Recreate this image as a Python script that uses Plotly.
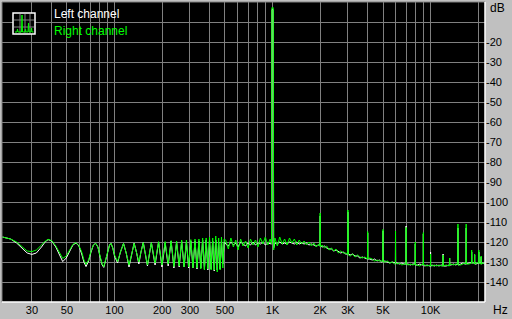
import plotly.graph_objects as go
import math

# ---------------- data ----------------
# Low-frequency region (comb-like ripple), Hz / dB
low_hz = [19.5, 22, 24, 26, 28, 30, 32, 34.5, 36.5, 38,
          40, 42.5, 45, 47, 49.5, 52, 54.5, 57, 59.5, 62,
          64, 66, 68.5, 71, 73.5, 76, 78.5, 81, 83.5, 85.5,
          88, 90.5, 93, 95, 97.5, 100, 104.5, 109, 114, 118.5,
          123.5, 128.5, 133, 138, 142.5, 147, 152, 161.5, 171, 180.5,
          190, 199.5, 209, 218.5, 228, 237.5, 247, 256.5, 266, 275.5,
          285, 294.5, 304, 313.5, 323, 332.5, 342, 351.5, 361, 370.5,
          380, 389.5, 399, 408.5, 418, 427.5, 437, 446.5, 456, 465.5,
          475, 484.5, 494]
low_left = [-117.5, -118.5, -120.5, -123.0, -125.5, -126.2, -125.5, -122.5, -119.8, -118.8,
            -119.5, -122.5, -127.0, -129.8, -128.0, -124.5, -121.5, -120.5, -122.0, -126.0,
            -130.0, -132.3, -129.5, -125.0, -121.5, -120.7, -122.5, -127.5, -131.5, -132.7,
            -129.0, -124.5, -121.5, -120.7, -123.0, -127.0, -130.5, -125.0, -120.7, -125.5,
            -132.5, -126.0, -120.5, -125.5, -131.0, -125.0, -120.2, -132.0, -120.3, -131.5,
            -120.0, -132.5, -120.5, -132.0, -119.5, -133.0, -120.0, -132.5, -119.8, -132.5,
            -120.0, -133.0, -119.5, -133.0, -119.5, -133.5, -119.5, -133.0, -119.0, -133.5,
            -119.0, -134.0, -119.0, -133.5, -119.5, -134.5, -119.0, -134.0, -120.0, -133.5,
            -119.5, -131.0, -120.0]
low_right = [-117.5, -118.5, -120.0, -122.5, -124.5, -124.8, -124.0, -121.5, -119.5, -118.7,
             -119.3, -122.0, -126.0, -128.2, -127.0, -124.0, -121.2, -120.3, -121.8, -125.0,
             -129.0, -131.2, -129.0, -124.5, -121.5, -120.7, -122.5, -127.0, -131.0, -132.3,
             -129.0, -124.5, -121.5, -120.7, -123.0, -126.5, -129.8, -125.0, -120.7, -125.5,
             -131.5, -126.0, -120.7, -125.5, -130.0, -125.0, -120.3, -131.5, -120.3, -130.5,
             -119.8, -131.5, -119.8, -131.0, -119.3, -132.3, -119.5, -132.0, -119.0, -132.5,
             -119.0, -132.5, -118.8, -133.0, -118.5, -133.0, -118.5, -133.5, -118.0, -134.0,
             -118.0, -133.5, -117.5, -134.0, -118.0, -134.0, -117.0, -135.0, -118.0, -134.0,
             -117.5, -133.0, -118.5]

# Mid region with the 1 kHz test tone
mid_hz = [505, 525, 545, 565, 585, 605, 628, 650, 675, 700,
          725, 752, 780, 808, 838, 868, 900, 932, 965, 985,
          990, 1000, 1010, 1016, 1035, 1072, 1110, 1150, 1192, 1235,
          1280, 1326, 1374, 1424, 1475, 1528, 1583, 1640, 1700, 1762,
          1825, 1890, 1958]
mid_left = [-121.0, -122.0, -120.0, -121.5, -120.5, -122.5, -120.0, -121.0, -122.0, -120.5,
            -121.5, -120.0, -121.5, -120.5, -121.0, -120.0, -121.5, -120.5, -121.0, -121.0,
            -4.0, -3.5, -4.0, -123.0, -120.5, -121.0, -120.0, -121.0, -120.5, -121.0,
            -120.0, -120.5, -121.0, -120.0, -121.0, -120.5, -121.0, -120.5, -121.5, -121.0,
            -121.5, -122.0, -121.5]
mid_right = [-119.0, -123.5, -118.0, -122.5, -119.0, -124.0, -118.5, -122.0, -119.5, -123.0,
             -118.5, -121.5, -119.0, -122.5, -118.0, -121.0, -117.5, -121.5, -118.5, -121.0,
             -3.0, -2.5, -3.0, -124.0, -118.0, -122.0, -117.5, -121.0, -118.5, -121.5,
             -118.0, -120.5, -118.5, -121.5, -119.0, -121.0, -119.5, -121.5, -120.0, -122.0,
             -120.5, -122.5, -121.0]

# High region: noise floor and harmonics
high_hz = [1990, 2000, 2010, 2060, 2130, 2200, 2280, 2360, 2440, 2520,
           2610, 2700, 2800, 2900, 2985, 3000, 3015, 3100, 3210, 3330,
           3450, 3570, 3700, 3830, 3950, 3990, 4000, 4010, 4120, 4270,
           4420, 4580, 4750, 4900, 4985, 5000, 5015, 5130, 5330, 5520,
           5720, 5900, 5990, 6000, 6010, 6130, 6350, 6580, 6800, 6990,
           7000, 7010, 7200, 7450, 7720, 7990, 8000, 8010, 8250, 8550,
           8850, 8990, 9000, 9010, 9200, 9500, 9850, 9990, 10000, 10010,
           10200, 10550, 10900, 11300, 11700, 11950, 12000, 12050, 12550, 13000,
           13150, 13200, 13250, 13450, 13950, 14450, 14850, 14900, 14950, 15500,
           16000, 16500, 16750, 16800, 16850, 17500, 18150, 18200, 18250, 18750,
           18950, 19000, 19050, 19400, 20150, 20200, 20250, 20800, 20850, 20900,
           20950, 21500, 22000]
high_left = [-122.0, -107.0, -122.0, -122.5, -122.0, -123.0, -123.5, -123.5, -124.5, -124.0,
             -125.0, -125.5, -125.0, -126.0, -126.0, -105.0, -126.0, -126.5, -126.0, -127.0,
             -127.0, -128.0, -127.5, -128.0, -128.5, -128.5, -115.5, -128.5, -128.5, -129.0,
             -128.5, -129.5, -129.0, -130.0, -129.5, -114.5, -130.0, -129.5, -130.0, -130.5,
             -130.0, -130.5, -130.5, -115.0, -130.5, -130.5, -131.0, -130.5, -131.0, -131.0,
             -112.0, -131.0, -131.0, -131.5, -131.0, -131.0, -121.0, -131.5, -131.5, -131.0,
             -131.5, -131.5, -116.0, -131.5, -132.0, -131.5, -132.0, -132.0, -125.0, -132.0,
             -131.5, -132.0, -131.5, -132.0, -131.5, -132.0, -126.0, -132.0, -132.0, -131.5,
             -131.5, -128.0, -131.5, -131.5, -131.0, -131.5, -131.0, -113.0, -131.5, -131.0,
             -130.5, -131.0, -131.0, -113.0, -131.0, -130.5, -130.5, -125.0, -130.5, -130.5,
             -130.5, -126.5, -131.0, -131.0, -130.5, -125.0, -130.5, -130.5, -130.5, -127.5,
             -131.0, -130.5, -131.0]
high_right = [-122.0, -105.5, -122.5, -121.5, -123.0, -122.0, -124.0, -123.0, -124.5, -123.5,
              -125.5, -124.5, -125.5, -125.5, -126.0, -104.0, -126.5, -127.0, -126.0, -127.5,
              -126.5, -127.5, -128.0, -127.5, -128.5, -128.5, -114.8, -128.5, -128.0, -128.5,
              -129.5, -129.0, -129.5, -129.5, -129.5, -113.7, -130.0, -130.0, -129.5, -130.5,
              -130.0, -131.0, -130.5, -114.5, -130.5, -131.0, -130.5, -131.5, -131.0, -131.0,
              -112.7, -131.0, -131.5, -131.0, -131.5, -131.0, -120.0, -131.5, -131.5, -132.0,
              -131.0, -131.5, -115.3, -131.5, -131.5, -132.0, -131.5, -132.0, -126.0, -132.0,
              -132.0, -131.5, -132.0, -131.5, -132.0, -132.0, -126.5, -132.0, -131.5, -132.0,
              -132.0, -128.0, -131.5, -131.0, -131.5, -131.0, -131.0, -111.0, -131.5, -131.5,
              -131.0, -130.5, -131.0, -111.0, -131.0, -131.0, -130.5, -124.0, -130.5, -130.5,
              -130.5, -126.0, -131.0, -130.5, -130.5, -124.0, -130.5, -131.0, -131.0, -127.0,
              -131.0, -130.5, -130.5]

x_grid_hz = [30, 40, 50, 60, 70, 80, 90, 100, 200, 300, 400, 500, 600, 700, 800, 900,
             1000, 2000, 3000, 4000, 5000, 6000, 7000, 8000, 9000, 10000, 20000]
x_label_hz = {30: "30", 50: "50", 100: "100", 200: "200", 300: "300", 500: "500",
              1000: "1K", 2000: "2K", 3000: "3K", 5000: "5K", 10000: "10K"}
y_grid_db = [-10, -20, -30, -40, -50, -60, -70, -80, -90, -100, -110, -120, -130, -140]
y_label_db = [-20, -30, -40, -50, -60, -70, -80, -90, -100, -110, -120, -130, -140]

assert len(low_hz) == len(low_left) == len(low_right)
assert len(mid_hz) == len(mid_left) == len(mid_right)
assert len(high_hz) == len(high_left) == len(high_right)

freq = low_hz + mid_hz + high_hz
left = low_left + mid_left + high_left
right = low_right + mid_right + high_right

# ---------------- layout geometry ----------------
W, H = 512, 319
PL, PT, PR, PB = 2, 2, 485, 302
BG = "#c0c0c0"
GRID = "#808080"
FONT = "Liberation Sans, Arial, sans-serif"


def px(x):
    return (x - PL) / (PR - PL)


def py(y):
    return 1 - (y - PT) / (PB - PT)


fig = go.Figure()
fig.add_trace(go.Scatter(x=freq, y=left, mode="lines", name="Left channel",
                         line=dict(color="#ffffff", width=1)))
fig.add_trace(go.Scatter(x=freq, y=right, mode="lines", name="Right channel",
                         line=dict(color="#00ff00", width=1)))

shapes = []
# sunken frame
shapes.append(dict(type="line", xref="paper", yref="paper", x0=0, x1=1, y0=1, y1=1,
                   line=dict(color=GRID, width=1)))
shapes.append(dict(type="line", xref="paper", yref="paper", x0=0, x1=0, y0=0, y1=1,
                   line=dict(color=GRID, width=1)))
shapes.append(dict(type="line", xref="paper", yref="paper", x0=0, x1=1, y0=0, y1=0,
                   line=dict(color="#ffffff", width=1.5)))
shapes.append(dict(type="line", xref="paper", yref="paper", x0=1, x1=1, y0=0, y1=1,
                   line=dict(color="#ffffff", width=1.5)))
# legend icon
shapes.append(dict(type="rect", xref="paper", yref="paper",
                   x0=px(13), x1=px(35), y0=py(34), y1=py(13),
                   fillcolor="#000000", line=dict(color="#ffffff", width=1.5)))
for gx in [20, 25, 30]:
    shapes.append(dict(type="line", xref="paper", yref="paper", x0=px(gx), x1=px(gx),
                       y0=py(33), y1=py(14), line=dict(color=GRID, width=1)))
for gy in [20, 27]:
    shapes.append(dict(type="line", xref="paper", yref="paper", x0=px(14), x1=px(34),
                       y0=py(gy), y1=py(gy), line=dict(color=GRID, width=1)))
icon_pts = [(15, 32), (17, 32), (17.5, 29), (18, 32), (21.5, 32), (22, 15), (22.5, 32),
            (25, 32), (25.5, 29), (26, 32), (28, 32), (28.5, 23), (29, 32), (31, 32),
            (31.5, 28), (32, 32), (33.5, 32)]
path = "M " + " L ".join(f"{px(a):.5f},{py(b):.5f}" for a, b in icon_pts)
shapes.append(dict(type="path", xref="paper", yref="paper", path=path,
                   line=dict(color="#00ff00", width=1)))

annotations = [
    dict(text="Left channel", xref="paper", yref="paper", x=px(52), y=py(14),
         xanchor="left", yanchor="middle", showarrow=False,
         font=dict(family=FONT, size=12, color="#ffffff")),
    dict(text="Right channel", xref="paper", yref="paper", x=px(52), y=py(31),
         xanchor="left", yanchor="middle", showarrow=False,
         font=dict(family=FONT, size=12, color="#00ff00")),
    dict(text="dB", xref="paper", yref="paper", x=px(488), y=py(8),
         xanchor="left", yanchor="middle", showarrow=False,
         font=dict(family=FONT, size=12, color="#000000")),
    dict(text="Hz", xref="paper", yref="paper", x=px(510), y=py(310),
         xanchor="right", yanchor="middle", showarrow=False,
         font=dict(family=FONT, size=12, color="#000000")),
]

fig.update_layout(
    width=W, height=H,
    margin=dict(l=PL, r=W - PR, t=PT, b=H - PB, pad=0),
    paper_bgcolor=BG, plot_bgcolor="#000000",
    showlegend=False,
    shapes=shapes, annotations=annotations,
    font=dict(family=FONT, size=11, color="#000000"),
)
fig.update_xaxes(
    type="log", range=[math.log10(19.4), math.log10(22100)],
    tickmode="array", tickvals=x_grid_hz,
    ticktext=[x_label_hz.get(v, "") for v in x_grid_hz],
    showgrid=True, gridcolor=GRID, gridwidth=1, zeroline=False,
    ticks="", showline=False, tickfont=dict(size=11, color="#000000"),
)
fig.update_yaxes(
    range=[-150, 0], side="right",
    tickmode="array", tickvals=y_grid_db,
    ticktext=["" if v not in y_label_db else str(v) for v in y_grid_db],
    showgrid=True, gridcolor=GRID, gridwidth=1, zeroline=False,
    ticks="", showline=False, tickfont=dict(size=11, color="#000000"),
)

fig.write_html("out.html")
